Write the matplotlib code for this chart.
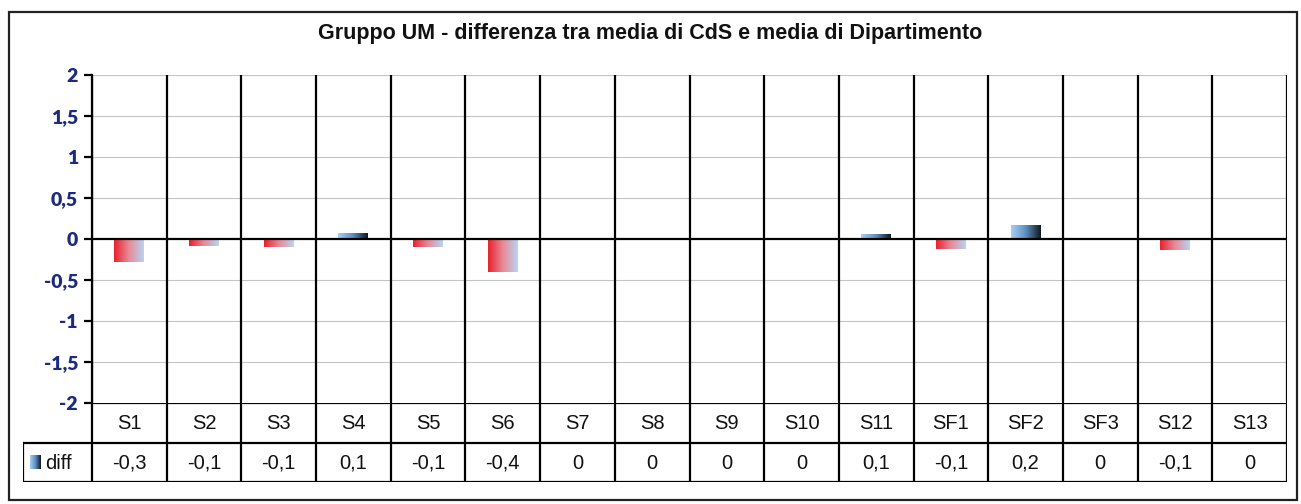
import numpy as np
import matplotlib.pyplot as plt
from matplotlib.colors import LinearSegmentedColormap
from matplotlib.patches import Rectangle

categories = ["S1", "S2", "S3", "S4", "S5", "S6", "S7", "S8", "S9", "S10",
              "S11", "SF1", "SF2", "SF3", "S12", "S13"]
diff = [-0.28, -0.09, -0.1, 0.07, -0.1, -0.4, 0, 0, 0, 0,
        0.05, -0.12, 0.16, 0, -0.14, 0]
diff_labels = ["-0,3", "-0,1", "-0,1", "0,1", "-0,1", "-0,4", "0", "0", "0", "0",
               "0,1", "-0,1", "0,2", "0", "-0,1", "0"]
yticks = [2, 1.5, 1, 0.5, 0, -0.5, -1, -1.5, -2]

W, H = 1301, 504
fig = plt.figure(figsize=(W / 100, H / 100), dpi=100)

def px(x0, y0, x1, y1):
    # pixel box (top-left origin) -> figure fraction rect
    return [x0 / W, 1 - y1 / H, (x1 - x0) / W, (y1 - y0) / H]

# outer frame
fig.patches.append(Rectangle((9 / W, 1 - 500 / H), 1288 / W, 488 / H,
                             transform=fig.transFigure, fill=False,
                             lw=1.6, ec="#222222"))

fig.text(0.5, 1 - 33 / H, "Gruppo UM - differenza tra media di CdS e media di Dipartimento",
         ha="center", va="center", fontsize=15.5, fontweight="bold",
         family="Liberation Sans", color="#111111")

ax = fig.add_axes(px(92, 75, 1287, 403))
n = len(categories)

for y in yticks:
    if y not in (0, -2):
        ax.axhline(y, color="#c4c4c4", lw=0.8, zorder=1)
for i in range(n + 1):
    ax.axvline(i - 0.5, color="black", lw=1.6, zorder=2)
ax.axhline(0, color="black", lw=1.6, zorder=4)

neg_cmap = LinearSegmentedColormap.from_list("neg", ["#e8222e", "#e88a98", "#b8d4f2"])
pos_cmap = LinearSegmentedColormap.from_list("pos", ["#a8cff2", "#5b8fbf", "#101820"])
grad = np.linspace(0, 1, 64).reshape(1, -1)
bw = 0.4
for i, v in enumerate(diff):
    if v == 0:
        continue
    cmap = neg_cmap if v < 0 else pos_cmap
    ax.imshow(grad, cmap=cmap, aspect="auto", interpolation="bicubic",
              extent=(i - bw / 2, i + bw / 2, min(0, v), max(0, v)), zorder=3)
ax.set_xlim(-0.5, n - 0.5)
ax.set_ylim(-2, 2)

ax.set_yticks(yticks)
ax.set_yticklabels([("%g" % t).replace(".", ",") for t in yticks],
                   fontsize=14, fontweight="heavy", color="#1c2a80", family="Lato")
ax.tick_params(axis="y", direction="out", length=6, width=1.6, pad=4)
ax.set_xticks([])
for s in ["top", "right", "bottom"]:
    ax.spines[s].set_visible(False)
ax.spines["left"].set_linewidth(1.6)

# data table below the plot
legw = 69 / ((1287 - 92) / n)
tax = fig.add_axes(px(23, 403, 1287, 482))
tax.axis("off")
lk = dict(color="black", lw=1.6, solid_capstyle="projecting")
tax.plot([-0.5, n - 0.5], [2, 2], **lk)
tax.plot([-0.5 - legw, n - 0.5], [1, 1], **lk)
tax.plot([-0.5 - legw, n - 0.5], [0, 0], **lk)
tax.plot([-0.5 - legw, -0.5 - legw], [0, 1], **lk)
for i in range(n + 1):
    tax.plot([i - 0.5, i - 0.5], [0, 2], **lk)
tf = dict(ha="center", va="center", fontsize=14.5, family="Liberation Sans", color="#111111")
for i, (c, lab) in enumerate(zip(categories, diff_labels)):
    tax.text(i, 1.47, c, **tf)
    tax.text(i, 0.47, lab, **tf)
tax.imshow(grad, cmap=pos_cmap, aspect="auto",
           extent=(-0.5 - legw + 0.09, -0.5 - legw + 0.23, 0.32, 0.66), zorder=3)
tax.set_xlim(-0.5 - legw, n - 0.5)
tax.set_ylim(0, 2)
tax.text(-0.5 - legw + 0.3, 0.47, "diff", ha="left", va="center", fontsize=14.5,
         family="Liberation Sans", color="#111111")

fig.savefig("out.png", dpi=100)
